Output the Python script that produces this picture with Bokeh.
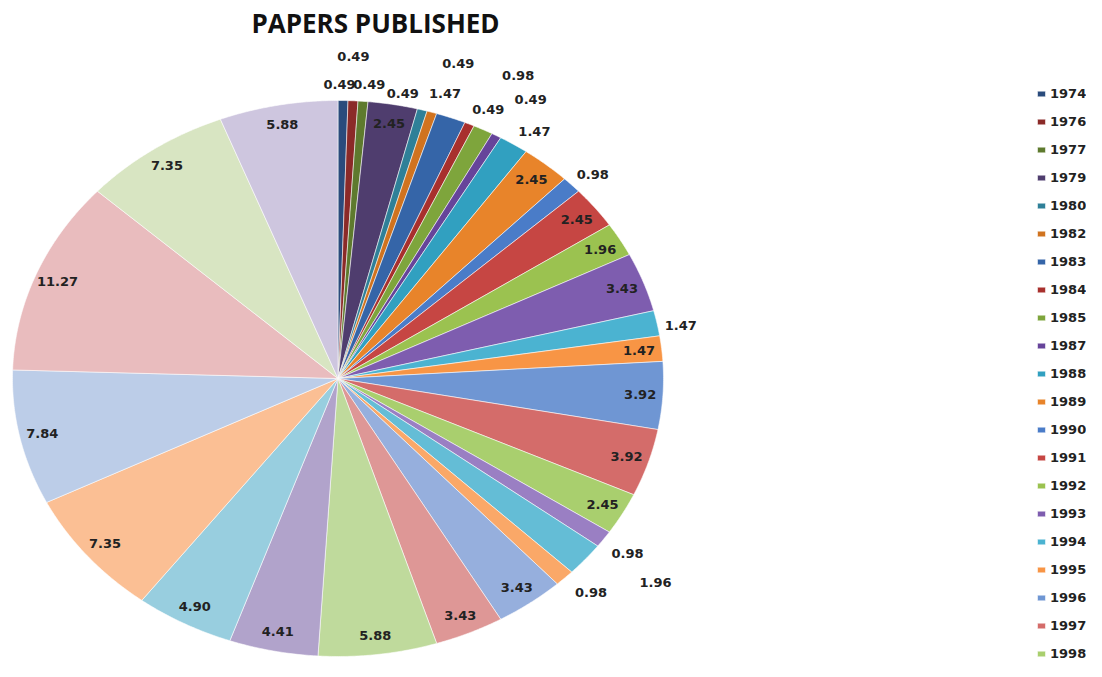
import math
from bokeh.plotting import figure
from bokeh.models import ColumnDataSource, Range1d, Legend, LegendItem, Label
from bokeh.core.properties import value
from bokeh.embed import file_html
from bokeh.resources import INLINE

# ---------------- data ----------------
years = ["1974", "1976", "1977", "1979", "1980", "1982", "1983", "1984", "1985",
         "1987", "1988", "1989", "1990", "1991", "1992", "1993", "1994", "1995",
         "1996", "1997", "1998", "1999", "2000", "2001", "2002", "2003", "2004",
         "2005", "2006", "2007", "2008", "2009", "2010", "2011"]
percent = [0.49, 0.49, 0.49, 2.45, 0.49, 0.49, 1.47, 0.49, 0.98,
           0.49, 1.47, 2.45, 0.98, 2.45, 1.96, 3.43, 1.47, 1.47,
           3.92, 3.92, 2.45, 0.98, 1.96, 0.98, 3.43, 3.43, 5.88,
           4.41, 4.90, 7.35, 7.84, 11.27, 7.35, 5.88]
colors = ["#2A4B7C", "#8B2A28", "#5E7A2E", "#4F3D6E", "#2F8098", "#D0731F",
          "#3565A8", "#A8302D", "#7EA53C", "#66449A", "#31A0C0", "#E8842A",
          "#4A7CC8", "#C64643", "#9BC250", "#7E5DAF", "#4BB3D1", "#F89545",
          "#6F96D3", "#D46C6A", "#A9CF6E", "#9A7FC3", "#64BDD6", "#FAA868",
          "#96AFDD", "#DE9796", "#BFDA9C", "#B1A3CB", "#98CEDF", "#FBBF94",
          "#BCCDE8", "#E9BCBE", "#D8E5C2", "#CEC6DF"]
legend_count = 21  # legend in the reference is cut after 1998

# ---------------- layout ----------------
W, H = 1086, 661
CX, CY = 337.5, 378.0      # pie centre, px from top-left of frame
RX, RY = 325.5, 278.0      # pie radii in px (stretched pie)
INSIDE_F, OUTSIDE_F = 0.93, 1.09
outside_idx = [0, 1, 2, 4, 5, 6, 7, 8, 9, 10, 12, 16, 21, 22, 23]
nudge = {0: (-4, 9), 1: (-1, -19), 2: (4, 8), 4: (-27, 8), 5: (18, -25),
         6: (-16, -1), 7: (7, 8), 8: (22, -32), 9: (20, -14), 10: (5, 8),
         12: (0, 7), 16: (-5, 7), 22: (48, 7), 23: (6, -4)}

p = figure(width=W, height=H, output_backend="svg", toolbar_location=None,
           x_axis_location=None, y_axis_location=None, min_border=0,
           x_range=Range1d(-CX / RX, (W - CX) / RX),
           y_range=Range1d(-(H - CY) / RY, CY / RY))
p.outline_line_color = None
p.xgrid.visible = False
p.ygrid.visible = False
p.background_fill_color = "white"
p.border_fill_color = "white"

total = sum(percent)
xs, ys, lx, ly, lt = [], [], [], [], []
cum = 0.0
for i, v in enumerate(percent):
    a0 = cum / total * 2 * math.pi
    a1 = (cum + v) / total * 2 * math.pi
    n = max(3, int(math.degrees(a1 - a0) / 0.4) + 2)
    angs = [a0 + (a1 - a0) * k / (n - 1) for k in range(n)]
    xs.append([0.0] + [math.sin(a) for a in angs])
    ys.append([0.0] + [math.cos(a) for a in angs])
    am = (a0 + a1) / 2
    f = OUTSIDE_F if i in outside_idx else INSIDE_F
    dx, dy = nudge.get(i, (0, 0))
    lx.append(f * math.sin(am) + dx / RX)
    ly.append(f * math.cos(am) - dy / RY)
    lt.append(f"{v:.2f}")
    cum += v

src = ColumnDataSource(dict(xs=xs, ys=ys, color=colors, year=years))
r = p.patches(xs="xs", ys="ys", fill_color="color", line_color="white",
              line_width=0.8, line_alpha=0.7, source=src)

lsrc = ColumnDataSource(dict(x=lx, y=ly, text=lt))
p.text(x="x", y="y", text="text", source=lsrc, text_font=value("DejaVu Sans"),
       text_font_style="bold", text_font_size="13px", text_color="#222222",
       text_align="center", text_baseline="middle")

title = Label(x=375, y=H - 22, x_units="screen", y_units="screen",
              text="PAPERS PUBLISHED", text_font="Open Sans",
              text_font_style="bold", text_font_size="26px",
              text_color="#111111", text_align="center", text_baseline="middle")
p.add_layout(title)

items = [LegendItem(label=years[i], renderers=[r], index=i) for i in range(legend_count)]
legend = Legend(items=items, location=(1036, 0), orientation="vertical",
                glyph_width=10, glyph_height=7, label_height=15, spacing=13,
                label_standoff=4, padding=0, margin=0,
                label_text_font="DejaVu Sans", label_text_font_style="bold",
                label_text_font_size="13px", label_text_color="#222222",
                border_line_color=None, background_fill_alpha=0)
p.add_layout(legend)

open("out.html", "w").write(file_html(p, INLINE))
